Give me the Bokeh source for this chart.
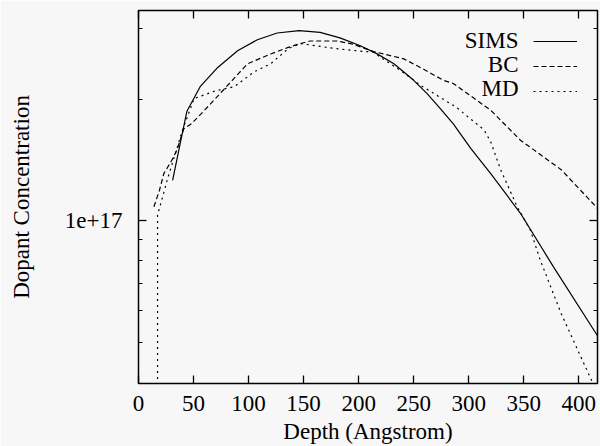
from bokeh.plotting import figure
from bokeh.models import (Range1d, LinearAxis, LogAxis, FixedTicker, CustomJSTickFormatter,
                          Legend, LegendItem, Label)
from bokeh.embed import file_html
from bokeh.resources import INLINE

# ---- data ----
sims_x = [31, 38, 44, 56, 72, 90, 108, 126, 146, 165, 183, 201, 216, 232, 250, 262, 274, 286, 302, 320, 347, 377, 417]
sims_y = [1.26e17, 1.56e17, 1.87e17, 2.15e17, 2.40e17, 2.64e17, 2.81e17, 2.92e17, 2.96e17, 2.93e17, 2.84e17,
          2.72e17, 2.60e17, 2.45e17, 2.23e17, 2.07e17, 1.90e17, 1.74e17, 1.51e17, 1.31e17, 1.045e17, 7.7e16, 5.2e16]

bc_x = [14, 19, 23, 30, 35, 41, 48, 60, 75, 99, 120, 136, 147, 156, 180, 195, 213, 241, 256, 277, 286, 320, 347, 384, 417]
bc_y = [1.085e17, 1.19e17, 1.31e17, 1.41e17, 1.50e17, 1.69e17, 1.74e17, 1.88e17, 2.08e17, 2.45e17, 2.59e17, 2.69e17,
        2.75e17, 2.79e17, 2.79e17, 2.74e17, 2.63e17, 2.52e17, 2.40e17, 2.23e17, 2.19e17, 1.88e17, 1.585e17, 1.34e17, 1.075e17]

md_x = [17.3, 17.3, 22, 26, 40, 50.5, 70, 87, 105, 120, 136, 147, 180, 204, 213, 222, 238, 256, 289, 314, 320, 329,
        344, 356, 365, 384, 414]
md_y = [1e16, 1.035e17, 1.15e17, 1.26e17, 1.68e17, 2.01e17, 2.10e17, 2.15e17, 2.34e17, 2.45e17, 2.67e17, 2.75e17,
        2.67e17, 2.63e17, 2.62e17, 2.52e17, 2.36e17, 2.17e17, 1.91e17, 1.68e17, 1.57e17, 1.34e17, 1.085e17, 9.5e16,
        8.0e16, 5.9e16, 3.9e16]

series_names = ["SIMS", "BC", "MD"]
x_ticks = [0, 50, 100, 150, 200, 250, 300, 350, 400]
y_major_ticks = [1e17]
y_minor_ticks = [5e16, 6e16, 7e16, 8e16, 9e16, 2e17, 3e17]

FONT = "Liberation Serif"
BG = "#f7f7f7"
FS = "23px"

p = figure(width=600, height=446, x_range=Range1d(0, 417), y_range=Range1d(3.96e16, 3.32e17),
           y_axis_type="log", output_backend="svg", toolbar_location=None,
           min_border_left=138, min_border_right=3, min_border_top=10, min_border_bottom=62,
           background_fill_color=BG, border_fill_color=BG,
           outline_line_color="black", outline_line_width=1.5)
p.grid.visible = False

xt = FixedTicker(ticks=x_ticks, minor_ticks=[])
yt = FixedTicker(ticks=y_major_ticks, minor_ticks=y_minor_ticks)

xa = p.xaxis[0]
xa.ticker = xt
xa.axis_label = "Depth (Angstrom)"
ya = p.yaxis[0]
ya.ticker = yt
ya.formatter = CustomJSTickFormatter(code="return '1e+17';")
ya.axis_label = "Dopant Concentration"

top = LinearAxis(ticker=xt, formatter=CustomJSTickFormatter(code="return '';"))
right = LogAxis(ticker=yt, formatter=CustomJSTickFormatter(code="return '';"))
p.add_layout(top, "above")
p.add_layout(right, "right")

for ax in [xa, ya, top, right]:
    ax.axis_line_color = None
    ax.major_tick_in = 8
    ax.major_tick_out = 0
    ax.minor_tick_in = 4
    ax.minor_tick_out = 0
    ax.major_tick_line_color = "black"
    ax.minor_tick_line_color = "black"
    ax.major_tick_line_width = 1.3
    ax.minor_tick_line_width = 1
    ax.major_label_text_font = FONT
    ax.major_label_text_font_size = FS
    ax.major_label_text_color = "black"
    ax.axis_label_text_font = FONT
    ax.axis_label_text_font_size = FS
    ax.axis_label_text_font_style = "normal"
    ax.axis_label_text_color = "black"

for ax in [top, right]:
    ax.major_label_text_font_size = "0px"
    ax.major_label_standoff = 0

xa.major_label_standoff = 12
xa.axis_label_standoff = 5
ya.major_label_standoff = 16
ya.axis_label_standoff = 28

r_sims = p.line(sims_x, sims_y, line_color="black", line_width=1.2)
r_bc = p.line(bc_x, bc_y, line_color="black", line_width=1.2, line_dash="5 3")
r_md = p.line(md_x, md_y, line_color="black", line_width=1.2, line_dash="2 4")

legend = Legend(items=[LegendItem(label=" ", renderers=[r]) for r in (r_sims, r_bc, r_md)],
                location=(395, 280), glyph_width=44, glyph_height=24, spacing=1, padding=0, margin=0,
                label_width=0, label_height=0, label_standoff=0, label_text_font_size="1px",
                background_fill_alpha=0, border_line_color=None)
p.add_layout(legend)

for name, yy in zip(series_names, [343, 319, 295]):
    p.add_layout(Label(x=380, y=yy, x_units="screen", y_units="screen", text=name,
                       text_align="right", text_baseline="alphabetic",
                       text_font=FONT, text_font_size=FS, text_color="black"))

open("out.html", "w").write(file_html(p, INLINE))
